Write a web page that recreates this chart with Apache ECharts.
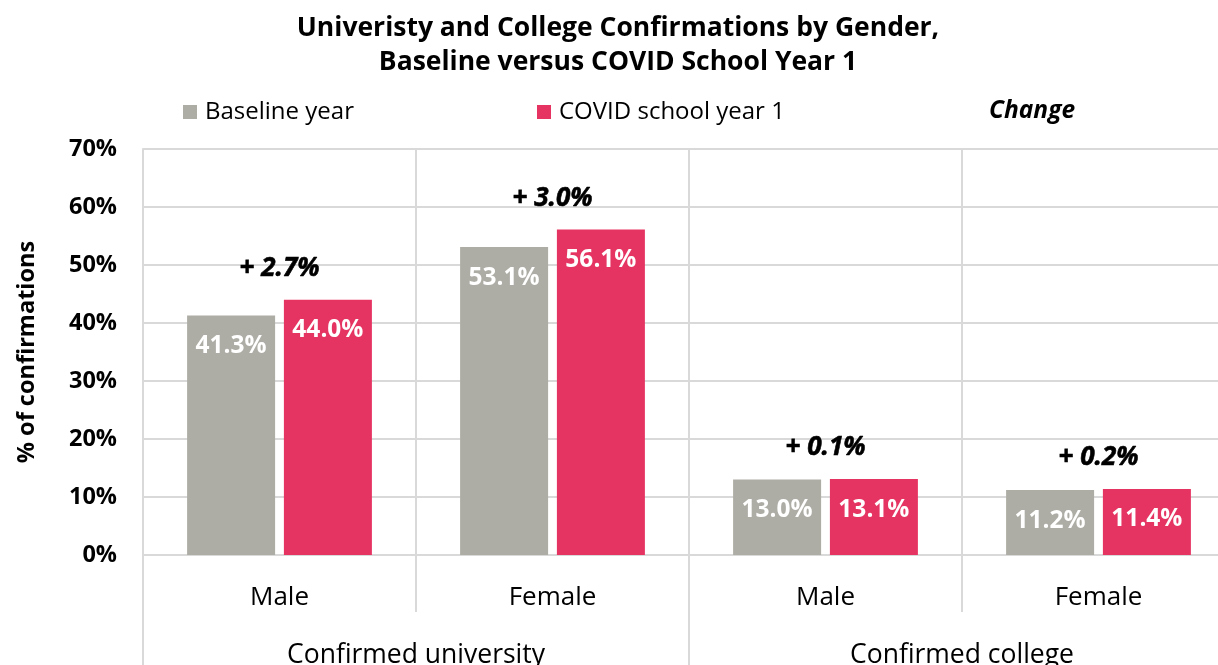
<!DOCTYPE html>
<html>
<head>
    <meta charset="utf-8">
    <title>Confirmations by Gender</title>
    <script src="https://cdn.jsdelivr.net/npm/echarts@6/dist/echarts.min.js"></script>
    <style>
        html, body { margin: 0; padding: 0; background: #fff; }
        #main { width: 1218px; height: 665px; }
    </style>
</head>
<body>
<div id="main"></div>
<script>
    // data
    var genders = ['Male', 'Female', 'Male', 'Female'];
    var groups = ['Confirmed university', 'Confirmed college'];
    var baseline = [41.3, 53.1, 13.0, 11.2];
    var covid = [44.0, 56.1, 13.1, 11.4];
    var changes = [2.7, 3.0, 0.1, 0.2];
    var yTicks = [0, 10, 20, 30, 40, 50, 60, 70];

    var FONT = '"Open Sans", "Noto Sans", sans-serif';
    var GRID_COLOR = '#d9d9d9';

    // change labels sit above the taller bar of each pair
    var tops = baseline.map(function (v, i) { return Math.max(v, covid[i]); });

    var myChart = echarts.init(document.getElementById('main'));

    var option = {
        animation: false,
        textStyle: { fontFamily: FONT },
        graphic: [
            {
                type: 'text',
                x: 618, y: 11,
                style: {
                    text: 'Univeristy and College Confirmations by Gender,\nBaseline versus COVID School Year 1',
                    textAlign: 'center',
                    font: 'bold 26.5px ' + FONT,
                    lineHeight: 34,
                    fill: '#000'
                }
            },
            {
                type: 'text',
                x: 989, y: 99,
                style: {
                    text: 'Change',
                    font: 'italic bold 24.5px ' + FONT,
                    fill: '#000'
                }
            }
        ],
        legend: [
            {
                data: ['Baseline year'],
                left: 178, top: 95,
                icon: 'rect', itemWidth: 14, itemHeight: 14,
                textStyle: { fontSize: 24, color: '#000', padding: [0, 0, 0, 3] }
            },
            {
                data: ['COVID school year 1'],
                left: 532, top: 95,
                icon: 'rect', itemWidth: 14, itemHeight: 14,
                textStyle: { fontSize: 24, color: '#000', padding: [0, 0, 0, 3] }
            }
        ],
        // plot runs past the right edge, as in the reference crop
        grid: { left: 143, width: 1092, top: 149, bottom: 110, outerBoundsMode: 'none', containLabel: false },
        xAxis: [
            {
                type: 'category',
                data: genders,
                position: 'bottom',
                axisLine: { lineStyle: { color: GRID_COLOR, width: 2 } },
                axisTick: { show: true, length: 57, lineStyle: { color: GRID_COLOR, width: 2 } },
                axisLabel: { fontSize: 26, color: '#000', margin: 30 },
                splitLine: { show: true, lineStyle: { color: GRID_COLOR, width: 2 } }
            },
            {
                type: 'category',
                data: groups,
                position: 'bottom',
                axisLine: { show: false },
                axisTick: { show: true, length: 112, lineStyle: { color: GRID_COLOR, width: 2 } },
                axisLabel: { fontSize: 26.5, color: '#000', margin: 87 },
                splitLine: { show: false }
            }
        ],
        yAxis: {
            type: 'value',
            min: yTicks[0],
            max: yTicks[yTicks.length - 1],
            interval: 10,
            name: '% of confirmations',
            nameLocation: 'middle',
            nameRotate: 90,
            nameGap: 104,
            nameTextStyle: { fontSize: 23.5, fontWeight: 'bold', color: '#000' },
            axisLine: { show: true, lineStyle: { color: GRID_COLOR, width: 2 } },
            axisTick: { show: false },
            axisLabel: { fontSize: 23.5, fontWeight: 'bold', color: '#000', margin: 26, formatter: '{value}%' },
            splitLine: { lineStyle: { color: GRID_COLOR, width: 2 } }
        },
        series: [
            {
                name: 'Baseline year',
                type: 'bar',
                data: baseline,
                barWidth: 88,
                barGap: '10%',
                itemStyle: { color: '#adaca5' },
                label: {
                    show: true, position: 'insideTop', distance: 18,
                    color: '#fff', fontSize: 24.5, fontWeight: 'bold',
                    formatter: function (p) { return p.value.toFixed(1) + '%'; }
                }
            },
            {
                name: 'COVID school year 1',
                type: 'bar',
                data: covid,
                barWidth: 88,
                barGap: '10%',
                itemStyle: { color: '#e63462' },
                label: {
                    show: true, position: 'insideTop', distance: 18,
                    color: '#fff', fontSize: 24.5, fontWeight: 'bold',
                    formatter: function (p) { return p.value.toFixed(1) + '%'; }
                }
            },
            {
                name: 'Change',
                type: 'scatter',
                data: tops,
                symbolSize: 0,
                itemStyle: { color: '#000' },
                silent: true,
                z: 5,
                label: {
                    show: true, position: 'top', distance: 18, opacity: 1,
                    color: '#000', fontSize: 26, fontWeight: 'bold', fontStyle: 'italic',
                    textBorderColor: '#000', textBorderWidth: 0.6,
                    formatter: function (p) { return '+ ' + changes[p.dataIndex].toFixed(1) + '%'; }
                }
            }
        ]
    };

    myChart.setOption(option);
</script>
</body>
</html>
